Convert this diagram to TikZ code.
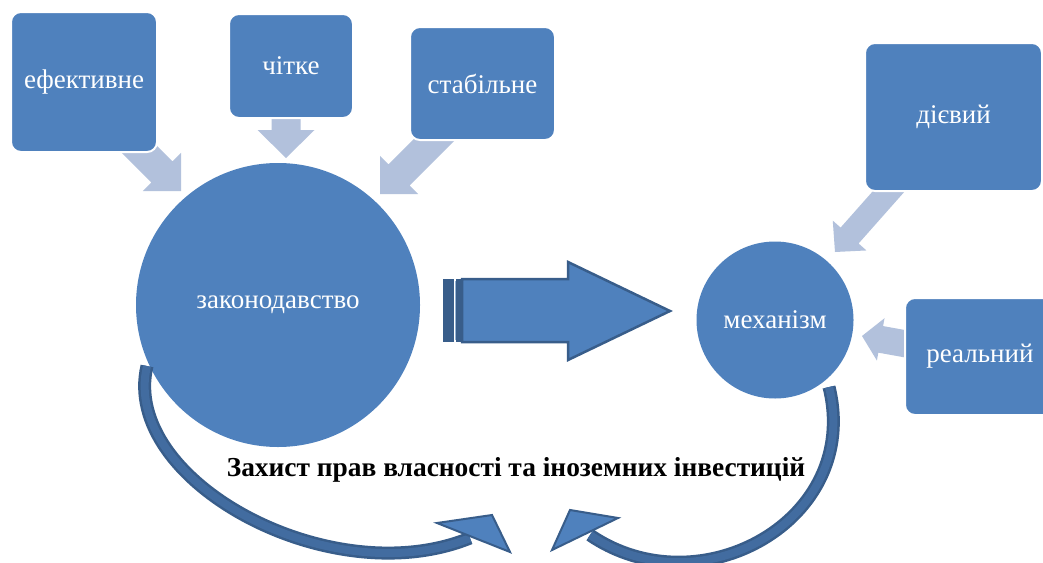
\documentclass[tikz,border=0pt]{standalone}
\usepackage{fontspec}
\setmainfont{Liberation Serif}
\usetikzlibrary{calc}
\definecolor{boxblue}{RGB}{79,129,189}
\definecolor{darkblue}{RGB}{56,93,138}
\definecolor{lightarr}{RGB}{178,193,220}
\definecolor{shaftblue}{RGB}{66,108,160}
\newcommand{\blockarr}[5]{%
  \coordinate (ba-b) at ($(#2)!#5!(#1)$);
  \fill[lightarr] ($(#1)!#3!90:(#2)$) -- ($(ba-b)!#3!90:(#2)$) -- ($(ba-b)!#4!90:(#2)$) -- (#2)
    -- ($(ba-b)!#4!-90:(#2)$) -- ($(ba-b)!#3!-90:(#2)$) -- ($(#1)!#3!-90:(#2)$) -- cycle;}
\begin{document}
\begin{tikzpicture}[x=1pt,y=-1pt,
  box/.style={rectangle, rounded corners=10pt, fill=boxblue, draw=white, line width=2pt,
    text=white, font=\fontsize{27}{31}\selectfont, inner sep=0pt},
  circ/.style={circle, fill=boxblue, draw=none, text=white,
    font=\fontsize{27}{31}\selectfont, inner sep=0pt},
  curveout/.style={darkblue, line width=13pt},
  curvein/.style={shaftblue, line width=8pt},
  headstyle/.style={fill=boxblue, draw=darkblue, line width=2pt, line join=miter},
  title/.style={font=\fontsize{27.4}{31}\selectfont\bfseries, text=black, inner sep=0pt}]
\useasboundingbox (0,0) rectangle (1043,562);
\fill[white] (0,0) rectangle (1043,562);

% light arrows (under the boxes)
\coordinate (t1) at (128,138); \coordinate (p1) at (181,191);
\coordinate (t2) at (286,106); \coordinate (p2) at (286,158);
\coordinate (t3) at (445,129); \coordinate (p3) at (380,194);
\coordinate (t4) at (897,182); \coordinate (p4) at (835,252);
\coordinate (t5) at (912,345); \coordinate (p5) at (862,336);
\blockarr{t1}{p1}{15pt}{27pt}{27pt}
\blockarr{t2}{p2}{14.5pt}{28.5pt}{28pt}
\blockarr{t3}{p3}{15pt}{27pt}{27pt}
\blockarr{t4}{p4}{12pt}{22.5pt}{22pt}
\blockarr{t5}{p5}{13.5pt}{21.5pt}{19pt}

% boxes
\node[box, minimum width=146pt, minimum height=140pt] (ef) at (84,82) {ефективне};
\node[box, minimum width=124pt, minimum height=104pt] (ch) at (291,66) {чітке};
\node[box, minimum width=145pt, minimum height=113pt] (st) at (482.5,83.5) {стабільне};
\node[box, minimum width=177pt, minimum height=148pt] (di) at (953.5,117) {дієвий};
\node[box, minimum width=150pt, minimum height=117pt] (re) at (980,356.5) {реальний};

% circles
\node[circ, minimum size=284pt] (zak) at (278,305) {законодавство};
\node[circ, minimum size=157pt] (mech) at (775,320) {механізм};

% big striped arrow
\coordinate (bt) at (670,311);
\filldraw[fill=boxblue, draw=darkblue, line width=2.5pt, line join=miter]
  (462,279) -- (568,279) -- (568,262) -- (bt) -- (568,360) -- (568,342) -- (462,342) -- cycle;
\fill[darkblue] (443,279) rectangle (454,342);
\fill[darkblue] (456,279) rectangle (461,342);
\draw[boxblue!60!white, line width=0.8pt] (455,281) -- (455,340);

% curved arrows
\coordinate (ls) at (147,366); \coordinate (le) at (470,538);
\draw[curveout] (ls) .. controls (120,480) and (330,595) .. (le);
\draw[curvein] (ls) .. controls (120,480) and (330,595) .. (le);
\coordinate (lh) at (492,515);
\filldraw[headstyle] (437,523) -- (lh) -- (510,552) -- cycle;

\coordinate (rs) at (829,387); \coordinate (re2) at (590,535);
\draw[curveout] (rs) .. controls (862,520) and (700,610) .. (re2);
\draw[curvein] (rs) .. controls (862,520) and (700,610) .. (re2);
\coordinate (rh) at (570,510);
\filldraw[headstyle] (552,550) -- (rh) -- (618,518) -- cycle;

% title
\node[title] (tt) at (516,470) {Захист прав власності та іноземних інвестицій};
\end{tikzpicture}
\end{document}
